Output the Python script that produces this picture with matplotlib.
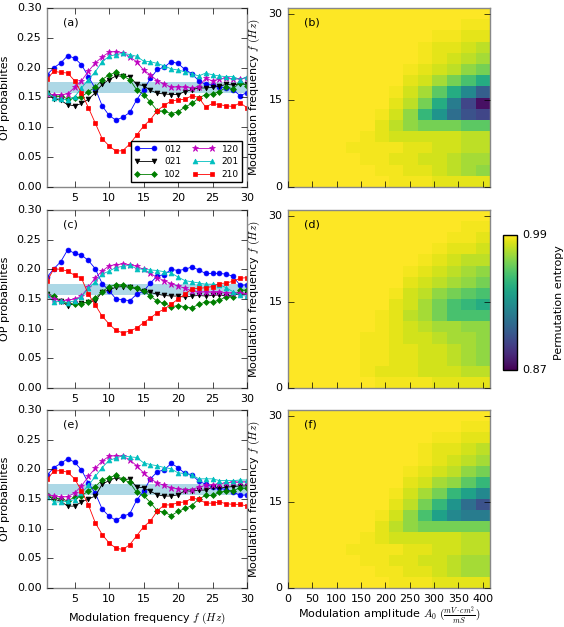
import numpy as np
import matplotlib
matplotlib.use("Agg")
import matplotlib.pyplot as plt

freq = np.arange(1, 31)
patterns = ["012", "021", "102", "120", "201", "210"]
colors = ["#0000ff", "#000000", "#007f00", "#bf00bf", "#00bfbf", "#ff0000"]
markers = ["o", "v", "D", "*", "^", "s"]
msizes = [3.5, 3.5, 3, 4.5, 3.5, 3.5]

a_012 = [0.188,0.200,0.208,0.220,0.216,0.205,0.185,0.165,0.136,0.120,0.112,0.117,0.125,0.146,0.163,0.182,0.197,0.201,0.210,0.207,0.197,0.190,0.178,0.172,0.171,0.168,0.166,0.163,0.153,0.158]
a_021 = [0.157,0.148,0.145,0.138,0.136,0.140,0.147,0.158,0.172,0.180,0.186,0.186,0.185,0.172,0.170,0.162,0.157,0.156,0.155,0.155,0.160,0.163,0.166,0.166,0.167,0.169,0.172,0.171,0.173,0.172]
a_102 = [0.158,0.153,0.152,0.148,0.150,0.151,0.160,0.167,0.180,0.188,0.192,0.186,0.180,0.163,0.155,0.142,0.128,0.127,0.123,0.126,0.134,0.140,0.149,0.155,0.156,0.160,0.167,0.165,0.175,0.170]
a_120 = [0.156,0.155,0.155,0.156,0.167,0.178,0.194,0.208,0.218,0.226,0.227,0.225,0.218,0.210,0.196,0.188,0.178,0.173,0.167,0.168,0.167,0.166,0.168,0.182,0.178,0.181,0.182,0.181,0.181,0.183]
a_201 = [0.159,0.150,0.147,0.146,0.151,0.166,0.180,0.193,0.210,0.219,0.222,0.224,0.222,0.219,0.211,0.210,0.207,0.203,0.198,0.196,0.193,0.190,0.186,0.191,0.188,0.186,0.185,0.185,0.180,0.185]
a_210 = [0.181,0.194,0.192,0.191,0.178,0.158,0.133,0.107,0.081,0.069,0.060,0.061,0.072,0.087,0.102,0.113,0.128,0.137,0.144,0.146,0.147,0.153,0.150,0.134,0.140,0.138,0.136,0.135,0.141,0.133]

c_012 = [0.187,0.201,0.213,0.233,0.227,0.224,0.215,0.201,0.176,0.164,0.150,0.149,0.147,0.158,0.163,0.177,0.189,0.191,0.200,0.198,0.200,0.204,0.199,0.193,0.193,0.193,0.192,0.188,0.173,0.174]
c_021 = [0.158,0.152,0.146,0.139,0.142,0.143,0.145,0.147,0.162,0.165,0.170,0.171,0.170,0.167,0.163,0.161,0.158,0.156,0.155,0.155,0.153,0.155,0.156,0.155,0.156,0.157,0.155,0.157,0.158,0.158]
c_102 = [0.159,0.155,0.147,0.143,0.141,0.142,0.145,0.152,0.162,0.171,0.174,0.174,0.171,0.169,0.164,0.155,0.146,0.143,0.137,0.139,0.137,0.135,0.141,0.145,0.145,0.148,0.154,0.154,0.165,0.165]
c_120 = [0.157,0.150,0.147,0.148,0.150,0.155,0.170,0.186,0.197,0.206,0.208,0.209,0.208,0.205,0.200,0.193,0.186,0.181,0.176,0.172,0.168,0.164,0.161,0.162,0.161,0.161,0.160,0.160,0.160,0.158]
c_201 = [0.157,0.145,0.146,0.144,0.147,0.154,0.168,0.179,0.192,0.197,0.203,0.205,0.207,0.201,0.200,0.199,0.198,0.196,0.194,0.187,0.181,0.179,0.177,0.175,0.175,0.174,0.169,0.162,0.156,0.155]
c_210 = [0.180,0.201,0.200,0.197,0.190,0.185,0.158,0.140,0.121,0.108,0.097,0.093,0.096,0.101,0.110,0.118,0.127,0.133,0.141,0.150,0.158,0.167,0.168,0.169,0.171,0.176,0.177,0.180,0.185,0.186]

e_012 = [0.190,0.203,0.210,0.218,0.212,0.199,0.177,0.160,0.133,0.121,0.114,0.121,0.125,0.148,0.163,0.184,0.196,0.199,0.210,0.203,0.193,0.191,0.180,0.175,0.170,0.168,0.166,0.162,0.156,0.157]
e_021 = [0.155,0.150,0.146,0.138,0.138,0.145,0.150,0.155,0.175,0.181,0.186,0.182,0.184,0.170,0.169,0.163,0.157,0.155,0.155,0.157,0.164,0.163,0.165,0.165,0.170,0.168,0.170,0.171,0.172,0.172]
e_102 = [0.156,0.152,0.150,0.147,0.153,0.155,0.164,0.171,0.182,0.186,0.190,0.183,0.178,0.161,0.156,0.144,0.130,0.128,0.122,0.129,0.134,0.139,0.150,0.156,0.156,0.161,0.164,0.164,0.169,0.168]
e_120 = [0.157,0.155,0.153,0.154,0.160,0.172,0.188,0.202,0.214,0.222,0.223,0.222,0.216,0.206,0.194,0.184,0.177,0.173,0.169,0.167,0.166,0.166,0.170,0.173,0.174,0.176,0.177,0.178,0.178,0.179]
e_201 = [0.154,0.145,0.145,0.146,0.149,0.160,0.173,0.188,0.203,0.215,0.219,0.223,0.221,0.220,0.211,0.208,0.206,0.203,0.201,0.194,0.193,0.191,0.184,0.184,0.184,0.181,0.181,0.181,0.182,0.182]
e_210 = [0.183,0.197,0.198,0.195,0.184,0.164,0.140,0.110,0.090,0.076,0.067,0.065,0.073,0.088,0.103,0.113,0.130,0.140,0.140,0.144,0.145,0.151,0.150,0.143,0.143,0.145,0.142,0.141,0.141,0.138]

band_low, band_high = 0.157, 0.176

# Heatmap grids: rows from f=0 upward (2 Hz each), 14 amplitude columns
amp_edges = np.linspace(0, 415, 15)
freq_edges = np.linspace(0, 31, 17)
Y = 0.99
b_grid = [
 [Y]*7+[0.988,0.988,0.988,0.985,0.985,0.985,0.985],
 [Y]*6+[0.988,0.988,0.985,0.985,0.982,0.978,0.974,0.970],
 [Y]*5+[0.988,0.988,0.985,0.985,0.982,0.982,0.978,0.974,0.974],
 [Y]*4+[0.988,0.988,0.988,0.988,0.985,0.985,0.982,0.982,0.978,0.978],
 [Y]*5+[0.988,0.985,0.982,0.982,0.982,0.982,0.982,0.978,0.978],
 [Y]*6+[0.985,0.978,0.970,0.965,0.965,0.965,0.960,0.960],
 [Y]*6+[0.988,0.982,0.970,0.950,0.932,0.913,0.900,0.895],
 [Y]*7+[0.985,0.978,0.965,0.944,0.920,0.895,0.875],
 [Y]*7+[0.988,0.982,0.974,0.960,0.944,0.926,0.906],
 [Y]*8+[0.985,0.982,0.974,0.965,0.955,0.944],
 [Y]*8+[0.988,0.985,0.982,0.978,0.970,0.965],
 [Y]*9+[0.988,0.985,0.982,0.978,0.974],
 [Y]*9+[0.988,0.985,0.985,0.982,0.978],
 [Y]*10+[0.988,0.988,0.985,0.985],
 [Y]*12+[0.988,0.988],
 [Y]*14,
]
d_grid = [
 [Y]*6+[0.988,0.988,0.988,0.988,0.985,0.985,0.985,0.985],
 [Y]*5+[0.988,0.985,0.985,0.985,0.982,0.982,0.982,0.978,0.978],
 [Y]*5+[0.988,0.988,0.985,0.985,0.982,0.982,0.978,0.974,0.970],
 [Y]*5+[0.988,0.988,0.985,0.985,0.982,0.982,0.978,0.974,0.970],
 [Y]*5+[0.988,0.988,0.985,0.982,0.982,0.978,0.974,0.974,0.970],
 [Y]*6+[0.988,0.985,0.982,0.978,0.974,0.974,0.970,0.970],
 [Y]*6+[0.988,0.985,0.978,0.974,0.965,0.955,0.955,0.955],
 [Y]*7+[0.985,0.982,0.974,0.965,0.955,0.950,0.944],
 [Y]*7+[0.988,0.982,0.978,0.970,0.965,0.960,0.955],
 [Y]*8+[0.985,0.982,0.978,0.974,0.970,0.965],
 [Y]*8+[0.988,0.985,0.982,0.978,0.974,0.970],
 [Y]*9+[0.988,0.985,0.982,0.978,0.978],
 [Y]*10+[0.988,0.985,0.985,0.982],
 [Y]*11+[0.988,0.988,0.985],
 [Y]*12+[0.988,0.988],
 [Y]*14,
]
f_grid = [
 [Y]*7+[0.988,0.988,0.988,0.985,0.985,0.985,0.985],
 [Y]*6+[0.988,0.988,0.985,0.985,0.982,0.978,0.974,0.974],
 [Y]*5+[0.988,0.988,0.985,0.985,0.982,0.982,0.978,0.974,0.974],
 [Y]*4+[0.988,0.988,0.988,0.988,0.985,0.985,0.982,0.982,0.978,0.978],
 [Y]*5+[0.988,0.985,0.982,0.982,0.982,0.982,0.982,0.978,0.978],
 [Y]*6+[0.985,0.978,0.970,0.965,0.965,0.965,0.965,0.965],
 [Y]*6+[0.988,0.982,0.970,0.955,0.938,0.926,0.920,0.920],
 [Y]*7+[0.985,0.978,0.965,0.950,0.932,0.913,0.900],
 [Y]*7+[0.988,0.982,0.974,0.965,0.950,0.938,0.926],
 [Y]*8+[0.985,0.982,0.974,0.970,0.960,0.950],
 [Y]*8+[0.988,0.985,0.982,0.978,0.970,0.965],
 [Y]*9+[0.988,0.985,0.982,0.978,0.974],
 [Y]*9+[0.988,0.985,0.985,0.982,0.978],
 [Y]*10+[0.988,0.988,0.985,0.985],
 [Y]*12+[0.988,0.988],
 [Y]*14,
]

plt.style.use("classic")
plt.rcParams["font.family"] = "DejaVu Sans"
plt.rcParams["font.size"] = 8
plt.rcParams["mathtext.fontset"] = "cm"
W, H = 564, 627
fig = plt.figure(figsize=(W/100, H/100), dpi=100)
fig.patch.set_facecolor("white")

def ax_px(l, t, r, b):
    return fig.add_axes([l/W, 1-b/H, (r-l)/W, (b-t)/H])

rows_y = [(8, 187), (210, 388), (410, 588)]
line_sets = [
    ("(a)", [a_012, a_021, a_102, a_120, a_201, a_210]),
    ("(c)", [c_012, c_021, c_102, c_120, c_201, c_210]),
    ("(e)", [e_012, e_021, e_102, e_120, e_201, e_210]),
]
heat_sets = [("(b)", b_grid), ("(d)", d_grid), ("(f)", f_grid)]

for i, ((t, b), (lab, series), (hlab, grid)) in enumerate(zip(rows_y, line_sets, heat_sets)):
    ax = ax_px(47, t, 247, b)
    ax.axhspan(band_low, band_high, color="#add8e6", lw=0, zorder=0)
    for s, name, c, m, ms in zip(series, patterns, colors, markers, msizes):
        ax.plot(freq, s, color=c, marker=m, markersize=ms, markeredgecolor=c,
                lw=0.6, label=name)
    ax.set_xlim(1, 30)
    ax.set_ylim(0, 0.30)
    ax.set_xticks([5, 10, 15, 20, 25, 30])
    ax.set_yticks(np.arange(0, 0.31, 0.05))
    ax.yaxis.set_major_formatter(matplotlib.ticker.FormatStrFormatter("%.2f"))
    ax.set_ylabel("OP probabilites", fontsize=8)
    ax.text(0.08, 0.92, lab, transform=ax.transAxes, fontsize=8, va="center")
    ax.tick_params(labelsize=8)
    for sp in ax.spines.values():
        sp.set_color("#888888")
    if i == 0:
        ax.legend(loc="lower right", ncol=2, fontsize=6.5, numpoints=2,
                  handlelength=2.5, borderpad=0.4, columnspacing=1.2, labelspacing=0.4)
    if i == 2:
        ax.set_xlabel(r"Modulation frequency $f\ (Hz)$", fontsize=8)

    hx = ax_px(288, t, 490, b)
    im = hx.pcolormesh(amp_edges, freq_edges, np.array(grid), cmap="viridis",
                       vmin=0.87, vmax=0.99, shading="flat")
    hx.set_xlim(0, 415)
    hx.set_ylim(0, 31)
    hx.set_yticks([0, 15, 30])
    hx.set_xticks(np.arange(0, 401, 50))
    hx.set_ylabel(r"Modulation frequency $f\ (Hz)$", fontsize=8)
    hx.text(0.08, 0.92, hlab, transform=hx.transAxes, fontsize=8, va="center")
    hx.tick_params(labelsize=8, top=False)
    for sp in hx.spines.values():
        sp.set_color("#888888")
    if i < 2:
        hx.set_xticklabels([])
    else:
        hx.set_xlabel(r"Modulation amplitude $A_0\ (\frac{mV\cdot cm^2}{mS})$", fontsize=8, labelpad=1)
    if i == 1:
        cax = ax_px(503, 235, 517, 370)
        cb = fig.colorbar(im, cax=cax, ticks=[0.87, 0.99])
        cb.ax.set_yticklabels(["0.87", "0.99"])
        cb.ax.tick_params(labelsize=8)
        cb.set_label("Permutation entropy", fontsize=8)

fig.savefig("out.png", dpi=100, facecolor="white")
